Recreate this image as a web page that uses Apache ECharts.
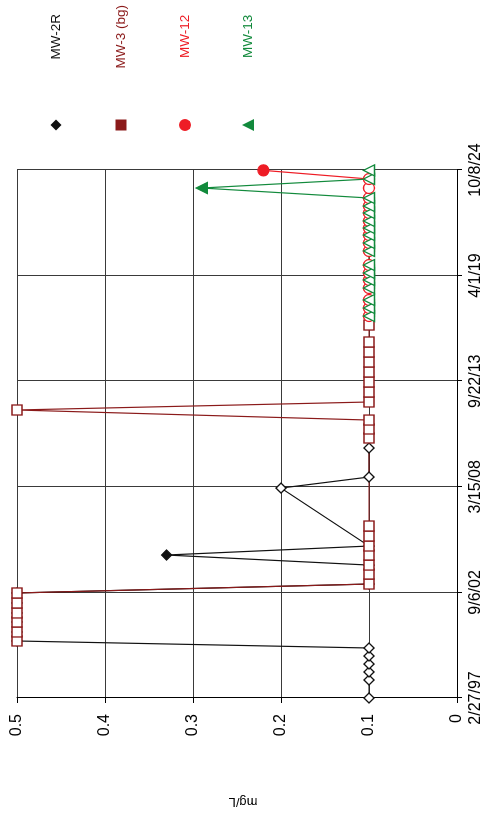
<!DOCTYPE html>
<html><head><meta charset="utf-8">
<script src="https://cdn.jsdelivr.net/npm/echarts@6/dist/echarts.min.js"></script>
<style>
html,body{margin:0;padding:0;width:487px;height:819px;overflow:hidden;background:#fff;}
#chart{position:absolute;left:0;top:0;width:819px;height:487px;transform-origin:0 0;transform:rotate(-90deg) translate(-819px,0);}
</style></head><body><div id="chart"></div>
<script>
// Axis ticks
const dateTicks = ['1997-02-27','2002-09-06','2008-03-15','2013-09-22','2019-04-01','2024-10-08'];
const valueTicks = [0, 0.1, 0.2, 0.3, 0.4, 0.5];
const seriesNames = ['MW-2R', 'MW-3 (bg)', 'MW-12', 'MW-13'];

// MW-2R
const mw2rDates = ['1997-02-27','1998-02-06','1998-07-09','1998-12-08','1999-05-10','1999-10-10',
  '2000-02-21','2000-08-11','2001-02-18','2001-08-09','2002-02-16','2002-08-26',
  '2003-02-13','2004-02-10','2004-08-20','2005-02-08','2008-02-20','2008-09-18','2010-03-26'];
const mw2rValues = [0.1,0.1,0.1,0.1,0.1,0.1, 0.5,0.5,0.5,0.5,0.5,0.5, 0.1,0.1,0.33,0.1,0.2,0.1,0.1];
const mw2rDetected = [0,0,0,0,0,0, 0,0,0,0,0,0, 0,0,1,0,0,0,0];

// MW-3 (bg)
const mw3Dates = ['2000-02-21','2000-08-11','2001-02-18','2001-08-09','2002-02-16','2002-08-26',
  '2003-02-13','2003-08-23','2004-02-10','2004-08-20','2005-02-08','2005-08-18','2006-02-25',
  '2010-10-03','2011-03-24','2011-09-11','2012-03-21','2012-08-21','2013-02-28','2013-09-07',
  '2014-03-17','2014-09-24','2015-04-03','2015-10-11','2016-08-30'];
const mw3Values = [0.5,0.5,0.5,0.5,0.5,0.5, 0.1,0.1,0.1,0.1,0.1,0.1,0.1,
  0.1,0.1,0.1,0.5,0.1,0.1,0.1, 0.1,0.1,0.1,0.1,0.1];
const mw3Detected = mw3Values.map(() => 0);

// MW-12 and MW-13 share sampling dates
const newWellDates = ['2017-02-18','2017-07-21','2017-12-21','2018-08-07','2019-01-07','2019-05-21',
  '2019-10-20','2020-07-14','2020-12-14','2021-05-15','2021-09-26','2022-02-07','2022-07-10',
  '2022-11-20','2023-04-22','2023-10-30','2024-04-19','2024-10-01'];
const mw12Values = [0.1,0.1,0.1,0.1,0.1,0.1,0.1,0.1,0.1,0.1,0.1,0.1,0.1,0.1,0.1,0.1,0.1,0.22];
const mw12Detected = [0,0,0,0,0,0,0,0,0,0,0,0,0,0,0,0,0,1];
const mw13Values = [0.1,0.1,0.1,0.1,0.1,0.1,0.1,0.1,0.1,0.1,0.1,0.1,0.1,0.1,0.1,0.29,0.1,0.1];
const mw13Detected = [0,0,0,0,0,0,0,0,0,0,0,0,0,0,0,1,0,0];

const colors = ['#111111', '#8B1A1A', '#EE1C25', '#128A3C'];
const symbols = ['diamond', 'rect', 'circle', 'triangle'];

const DAY = 86400000;
const ms = s => Date.parse(s + 'T00:00:00Z');
const fmtDate = v => {
  const d = new Date(Math.round(v / DAY) * DAY);
  return (d.getUTCMonth() + 1) + '/' + d.getUTCDate() + '/' + String(d.getUTCFullYear()).slice(2);
};
const FONT = '"Liberation Sans", Arial, sans-serif';

function build(dates, values, detected, color) {
  return dates.map((d, i) => {
    const item = { value: [ms(d), values[i]] };
    if (detected[i]) item.itemStyle = { color: color };
    return item;
  });
}

const seriesData = [
  build(mw2rDates, mw2rValues, mw2rDetected, colors[0]),
  build(mw3Dates, mw3Values, mw3Detected, colors[1]),
  build(newWellDates, mw12Values, mw12Detected, colors[2]),
  build(newWellDates, mw13Values, mw13Detected, colors[3])
];
const symSizes = [10, 10, 11, 11];

const series = seriesNames.map((name, i) => ({
  type: 'line', name: name, data: seriesData[i],
  symbol: symbols[i], symbolSize: symSizes[i], clip: false,
  lineStyle: { color: colors[i], width: 1.2 },
  itemStyle: { color: '#ffffff', borderColor: colors[i], borderWidth: 1.3 },
  emphasis: { disabled: true }
}));

const legendY = [57, 122, 186, 249];
const legendPad = [55, 46, 56, 56];
const legendIconSize = [11, 11, 12, 12];
const legends = seriesNames.map((name, i) => ({
  orient: 'vertical', left: 694 - legendIconSize[i] / 2, top: legendY[i] - 8, padding: 0,
  itemWidth: legendIconSize[i], itemHeight: legendIconSize[i], selectedMode: false,
  data: [{ name: name, icon: symbols[i],
           itemStyle: { color: colors[i], borderWidth: 0 } }],
  textStyle: { color: colors[i], fontSize: 13.5, fontFamily: FONT, padding: [0, 0, 0, legendPad[i]] }
}));

const t0 = ms(dateTicks[0]);
const tInt = ms(dateTicks[1]) - t0;
const tMax = ms(dateTicks[dateTicks.length - 1]);

const chart = echarts.init(document.getElementById('chart'), null, { renderer: 'canvas' });
chart.setOption({
  animation: false,
  backgroundColor: '#ffffff',
  grid: { left: 121, right: 170, top: 17, bottom: 30, containLabel: false },
  legend: legends,
  xAxis: {
    type: 'value', min: t0, max: tMax, interval: tInt,
    axisLine: { show: true, lineStyle: { color: '#000', width: 1 } },
    axisTick: { show: true, length: 5, lineStyle: { color: '#000' } },
    axisLabel: { formatter: fmtDate, color: '#000', fontSize: 16, fontFamily: FONT, margin: 11 },
    splitLine: { show: true, lineStyle: { color: '#3a3a3a', width: 1 } }
  },
  yAxis: {
    type: 'value', min: valueTicks[0], max: valueTicks[valueTicks.length - 1], interval: valueTicks[1] - valueTicks[0],
    name: 'mg/L', nameLocation: 'middle', nameRotate: 90, nameGap: 97,
    nameTextStyle: { color: '#000', fontSize: 13, fontFamily: FONT, padding: [0, 12, 0, 0] },
    axisLine: { show: true, lineStyle: { color: '#000', width: 1 } },
    axisTick: { show: true, length: 5, lineStyle: { color: '#000' } },
    axisLabel: { formatter: v => String(Number(v.toFixed(1))), color: '#000', fontSize: 16, fontFamily: FONT, margin: 16 },
    splitLine: { show: true, lineStyle: { color: '#3a3a3a', width: 1 } }
  },
  series: series
});
</script></body></html>
